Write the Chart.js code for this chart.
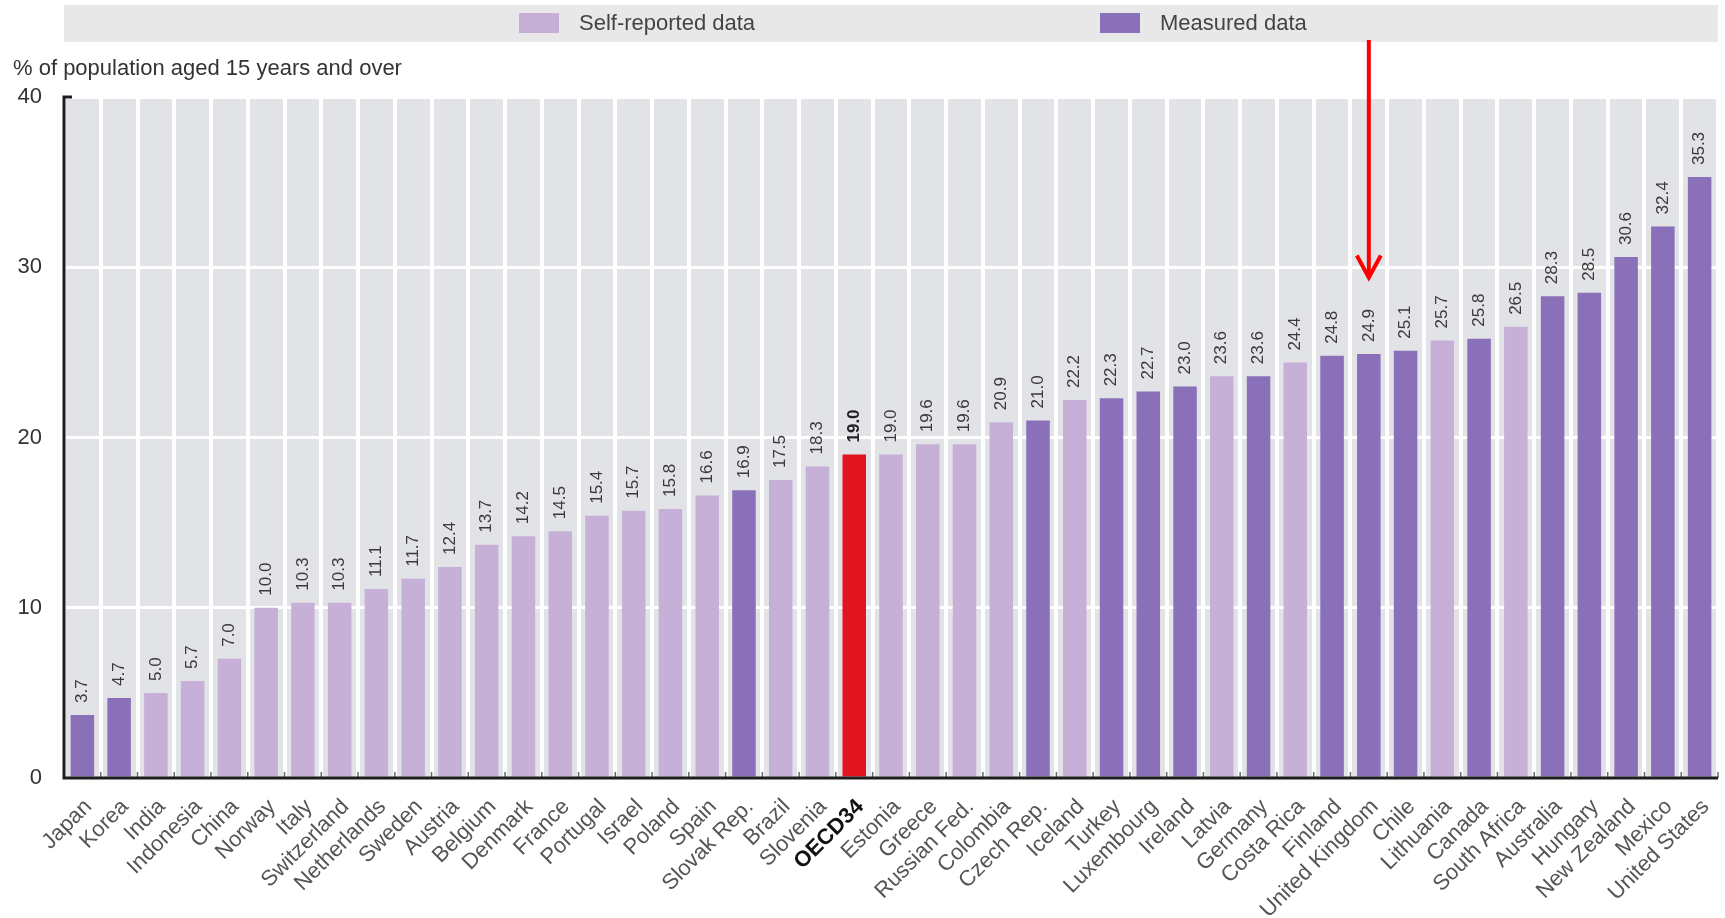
<!DOCTYPE html>
<html>
<head>
<meta charset="utf-8">
<script src="https://cdn.jsdelivr.net/npm/chart.js@4.4.1/dist/chart.umd.min.js"></script>
<style>
  html, body { margin: 0; padding: 0; background: #fff; }
  #wrap { position: relative; width: 1725px; height: 918px; }
</style>
</head>
<body>
<div id="wrap"><canvas id="chart"></canvas></div>
<script>
// Categories, left to right
const countries = [
  'Japan', 'Korea', 'India', 'Indonesia', 'China', 'Norway', 'Italy', 'Switzerland',
  'Netherlands', 'Sweden', 'Austria', 'Belgium', 'Denmark', 'France', 'Portugal',
  'Israel', 'Poland', 'Spain', 'Slovak Rep.', 'Brazil', 'Slovenia', 'OECD34',
  'Estonia', 'Greece', 'Russian Fed.', 'Colombia', 'Czech Rep.', 'Iceland', 'Turkey',
  'Luxembourg', 'Ireland', 'Latvia', 'Germany', 'Costa Rica', 'Finland',
  'United Kingdom', 'Chile', 'Lithuania', 'Canada', 'South Africa', 'Australia',
  'Hungary', 'New Zealand', 'Mexico', 'United States'
];

// Obesity rate, % of population aged 15+
const values = [
  3.7, 4.7, 5.0, 5.7, 7.0, 10.0, 10.3, 10.3, 11.1, 11.7, 12.4, 13.7, 14.2, 14.5, 15.4,
  15.7, 15.8, 16.6, 16.9, 17.5, 18.3, 19.0, 19.0, 19.6, 19.6, 20.9, 21.0, 22.2, 22.3,
  22.7, 23.0, 23.6, 23.6, 24.4, 24.8, 24.9, 25.1, 25.7, 25.8, 26.5, 28.3, 28.5, 30.6,
  32.4, 35.3
];

// S = self-reported, M = measured, O = OECD average
const dataType = [
  'M', 'M', 'S', 'S', 'S', 'S', 'S', 'S', 'S', 'S', 'S', 'S', 'S', 'S', 'S',
  'S', 'S', 'S', 'M', 'S', 'S', 'O', 'S', 'S', 'S', 'S', 'M', 'S', 'M',
  'M', 'M', 'S', 'M', 'S', 'M', 'M', 'M', 'S', 'M', 'S', 'M', 'M', 'M',
  'M', 'M'
];

const yTicks = [0, 10, 20, 30, 40];
const legendLabels = ['Self-reported data', 'Measured data'];
const yAxisTitle = '% of population aged 15 years and over';
const highlighted = 'United Kingdom';
const averageLabel = 'OECD34';

const COLORS = { S: '#c6b0d8', M: '#8a70b8', O: '#e0151f' };
const FONT = '"Liberation Sans", Arial, sans-serif';

const barColors = dataType.map(t => COLORS[t]);

/**
 * Draws the legend strip, plot background, value labels, axes and arrow
 */
const decorations = {
  id: 'decorations',
  beforeDraw(chart) {
    const { ctx, chartArea: a } = chart;
    ctx.save();

    // legend strip
    ctx.fillStyle = '#e8e8e8';
    ctx.fillRect(a.left, 5, a.right - a.left, 37);
    const legendX = [519, 1100];
    ctx.font = '22px ' + FONT;
    ctx.textBaseline = 'middle';
    ctx.textAlign = 'left';
    legendLabels.forEach((label, i) => {
      ctx.fillStyle = i === 0 ? COLORS.S : COLORS.M;
      ctx.fillRect(legendX[i], 13, 40, 20);
      ctx.fillStyle = '#444';
      ctx.fillText(label, legendX[i] + 60, 24);
    });

    // axis title
    ctx.font = '22px ' + FONT;
    ctx.fillStyle = '#333';
    ctx.fillText(yAxisTitle, 13, 69);

    // plot background
    ctx.fillStyle = '#e2e3e6';
    ctx.fillRect(a.left, a.top, a.right - a.left, a.bottom - a.top);
    ctx.restore();
  },
  afterDatasetsDraw(chart) {
    const { ctx, chartArea: a } = chart;
    const meta = chart.getDatasetMeta(0);
    const x = chart.scales.x;
    ctx.save();

    // value labels, rotated
    meta.data.forEach((bar, i) => {
      const bold = countries[i] === averageLabel;
      ctx.save();
      ctx.translate(bar.x, bar.y - 12);
      ctx.rotate(-Math.PI / 2);
      ctx.font = (bold ? 'bold ' : '') + '17px ' + FONT;
      ctx.fillStyle = bold ? '#222' : '#3a3a3a';
      ctx.textAlign = 'left';
      ctx.textBaseline = 'middle';
      ctx.fillText(values[i].toFixed(1), 0, 0);
      ctx.restore();
    });

    // small tick marks at category boundaries
    const half = (x.getPixelForValue(1) - x.getPixelForValue(0)) / 2;
    ctx.strokeStyle = '#666';
    ctx.lineWidth = 1.5;
    for (let i = 0; i <= countries.length; i++) {
      const px = x.getPixelForValue(0) - half + i * half * 2;
      ctx.beginPath();
      ctx.moveTo(px, a.bottom);
      ctx.lineTo(px, a.bottom - 6);
      ctx.stroke();
    }

    // axis lines
    ctx.strokeStyle = '#1e1e1e';
    ctx.lineWidth = 3;
    ctx.beginPath();
    ctx.moveTo(a.left + 8, a.top);
    ctx.lineTo(a.left, a.top);
    ctx.lineTo(a.left, a.bottom);
    ctx.lineTo(a.right, a.bottom);
    ctx.stroke();
    ctx.restore();
  },
  afterDraw(chart) {
    const { ctx } = chart;
    const idx = countries.indexOf(highlighted);
    const px = chart.scales.x.getPixelForValue(idx);
    const tip = chart.scales.y.getPixelForValue(29.4);
    ctx.save();
    ctx.strokeStyle = '#ff0000';
    ctx.lineWidth = 4;
    ctx.beginPath();
    ctx.moveTo(px, 40);
    ctx.lineTo(px, tip);
    ctx.stroke();
    ctx.beginPath();
    ctx.moveTo(px - 12, tip - 22);
    ctx.lineTo(px, tip);
    ctx.lineTo(px + 12, tip - 22);
    ctx.stroke();
    ctx.restore();
  }
};

const chart = new Chart(document.getElementById('chart'), {
  type: 'bar',
  data: {
    labels: countries,
    datasets: [{
      data: values,
      backgroundColor: barColors,
      borderWidth: 0,
      barPercentage: 0.64,
      categoryPercentage: 1.0,
    }],
  },
  options: {
    responsive: true,
    maintainAspectRatio: false,
    animation: false,
    layout: { padding: { top: 97, right: 7, left: 0, bottom: 0 } },
    plugins: {
      legend: { display: false },
      tooltip: { enabled: false },
    },
    scales: {
      x: {
        grid: { color: '#ffffff', lineWidth: 4, offset: true, drawTicks: false },
        border: { display: false },
        ticks: {
          autoSkip: false,
          minRotation: 45,
          maxRotation: 45,
          padding: 16,
          labelOffset: 6,
          color: ctx => (countries[ctx.index] === averageLabel ? '#111' : '#555'),
          font: ctx => ({
            family: FONT,
            size: 22,
            weight: countries[ctx.index] === averageLabel ? 'bold' : 'normal',
          }),
        },
        afterFit: scale => {
          scale.height = 140;
          scale.paddingLeft = 0;
          scale.paddingRight = 0;
        },
      },
      y: {
        min: 0,
        max: 40,
        grid: { color: '#ffffff', lineWidth: 3, drawTicks: false },
        border: { display: false },
        afterBuildTicks: scale => { scale.ticks = yTicks.map(v => ({ value: v })); },
        ticks: {
          padding: 22,
          color: '#333',
          font: { family: FONT, size: 22 },
        },
        afterFit: scale => { scale.width = 64; },
      },
    },
  },
  plugins: [decorations],
});
</script>
</body>
</html>
